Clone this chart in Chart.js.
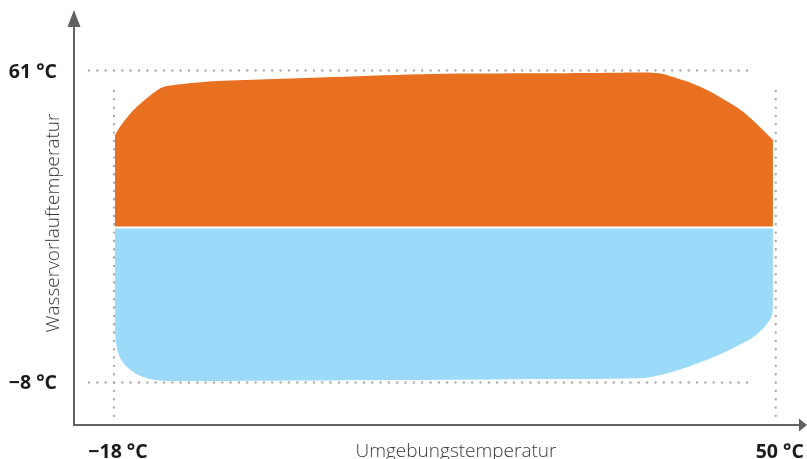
<!DOCTYPE html>
<html>
<head>
<meta charset="utf-8">
<script src="https://cdn.jsdelivr.net/npm/chart.js@4/dist/chart.umd.min.js"></script>
<style>
  html, body { margin: 0; padding: 0; background: #ffffff; }
  #wrap { width: 807px; height: 459px; }
</style>
</head>
<body>
<div id="wrap"><canvas id="c" width="807" height="459"></canvas></div>
<script>
// ---- Data ----
// Upper limit (orange area): ambient temperature (°C) vs max. water flow temperature (°C)
const ambientTop = [-17.9, -17.59, -17.18, -16.66, -16.05, -15.33, -14.61, -13.89, -13.07, -12.04, -10.91, -9.16, -7.42,
                    4.5, 14.78, 25.06, 31.94, 37.39, 38.42, 39.45, 41.19, 42.94, 44.59, 46.33, 47.56, 48.69, 49.71];
const flowMax    = [46.7, 47.81, 49.14, 50.58, 52.13, 53.57, 54.9, 56.12, 57.23, 57.71, 58.0, 58.38, 58.67,
                    59.55, 60.22, 60.37, 60.44, 60.51, 60.22, 59.55, 58.33, 56.67, 54.68, 52.35, 50.13, 47.81, 45.59];
// Lower limit (blue area): ambient temperature (°C) vs min. water flow temperature (°C)
const ambientBottom = [-17.9, -17.85, -17.74, -17.59, -17.18, -16.66, -15.94, -15.02, -13.89, -12.55, 11.39, 23.72,
                       36.05, 37.9, 39.86, 41.5, 43.25, 44.99, 46.64, 47.77, 48.69, 49.21, 49.62, 49.71];
const flowMin       = [3.48, 1.71, -0.07, -1.62, -3.39, -4.72, -5.94, -6.94, -7.56, -7.82, -7.6, -7.42,
                       -7.22, -6.6, -5.5, -4.28, -2.84, -1.17, 0.6, 2.04, 3.81, 5.14, 6.8, 9.02];
// Boundary between the two areas (°C water flow temperature)
const splitTemp = 26.2;
const splitRange = [-17.9, 49.71];
// Tick values and labels
const xTicks = [-18, 50];
const xTickLabels = ['\u221218 \u00b0C', '50 \u00b0C'];
const yTicks = [61, -8];
const yTickLabels = ['61 \u00b0C', '\u22128 \u00b0C'];
const xTitle = 'Umgebungstemperatur';
const yTitle = 'Wasservorlauftemperatur';

const ORANGE = '#E97021';
const BLUE = '#9BDAF8';
const AXIS = '#616161';
const DOT = '#ababab';

const toPoints = (xs, ys) => xs.map((x, i) => ({ x: x, y: ys[i] }));

const decor = {
  id: 'decor',
  beforeDatasetsDraw(chart) {
    const ctx = chart.ctx;
    const xs = chart.scales.x, ys = chart.scales.y;
    ctx.save();
    ctx.strokeStyle = DOT;
    ctx.lineWidth = 2.4;
    ctx.lineCap = 'round';
    ctx.setLineDash([0.01, 8.32]);
    const xL = xs.getPixelForValue(xTicks[0]);
    const xR = xs.getPixelForValue(xTicks[1]);
    const yT = ys.getPixelForValue(yTicks[0]);
    const yB = ys.getPixelForValue(yTicks[1]);
    yTicks.forEach(v => {
      const y = Math.round(ys.getPixelForValue(v)) + 0.5;
      ctx.beginPath();
      ctx.moveTo(xL - 25, y);
      ctx.lineTo(xR - 26, y);
      ctx.stroke();
    });
    xTicks.forEach(v => {
      const x = xs.getPixelForValue(v);
      ctx.beginPath();
      ctx.moveTo(x, yT + 20.5);
      ctx.lineTo(x, yB + 35);
      ctx.stroke();
    });
    ctx.restore();
  },
  afterDraw(chart) {
    const ctx = chart.ctx;
    const a = chart.chartArea;
    const xs = chart.scales.x, ys = chart.scales.y;
    ctx.save();
    ctx.strokeStyle = AXIS;
    ctx.fillStyle = AXIS;
    ctx.lineWidth = 2;
    ctx.beginPath();
    ctx.moveTo(a.left, a.bottom + 1);
    ctx.lineTo(a.left, a.top + 14);
    ctx.moveTo(a.left - 1, a.bottom);
    ctx.lineTo(a.right - 6, a.bottom);
    ctx.stroke();
    ctx.beginPath();
    ctx.moveTo(a.left, a.top);
    ctx.lineTo(a.left - 6.5, a.top + 17);
    ctx.lineTo(a.left + 6.5, a.top + 17);
    ctx.closePath();
    ctx.fill();
    ctx.beginPath();
    ctx.moveTo(a.right + 1, a.bottom);
    ctx.lineTo(a.right - 7, a.bottom - 6.5);
    ctx.lineTo(a.right - 7, a.bottom + 6.5);
    ctx.closePath();
    ctx.fill();

    ctx.fillStyle = '#1a1a1a';
    ctx.font = 'bold 19.5px "Open Sans", "DejaVu Sans", sans-serif';
    ctx.textBaseline = 'alphabetic';
    ctx.textAlign = 'right';
    yTicks.forEach((v, i) => {
      ctx.fillText(yTickLabels[i], a.left - 17, ys.getPixelForValue(v) + 7.3);
    });
    ctx.textAlign = 'center';
    xTicks.forEach((v, i) => {
      ctx.fillText(xTickLabels[i], xs.getPixelForValue(v) + 4, a.bottom + 33);
    });

    ctx.fillStyle = '#3a3a3a';
    ctx.font = '300 19px "Open Sans", "DejaVu Sans", sans-serif';
    ctx.textAlign = 'center';
    ctx.fillText(xTitle, 456, a.bottom + 32);
    ctx.save();
    ctx.translate(59, 223);
    ctx.rotate(-Math.PI / 2);
    ctx.fillText(yTitle, 0, 0);
    ctx.restore();
    ctx.restore();
  }
};

new Chart(document.getElementById('c'), {
  type: 'line',
  data: {
    datasets: [
      {
        label: 'Trennlinie',
        data: toPoints(splitRange, [splitTemp, splitTemp]),
        borderColor: '#ffffff',
        borderWidth: 2.2,
        pointRadius: 0,
        fill: false
      },
      {
        label: 'Heizen',
        data: toPoints(ambientTop, flowMax),
        borderColor: 'rgba(0,0,0,0)',
        borderWidth: 1,
        backgroundColor: ORANGE,
        pointRadius: 0,
        tension: 0.3,
        fill: { value: splitTemp }
      },
      {
        label: 'Kühlen',
        data: toPoints(ambientBottom, flowMin),
        borderColor: 'rgba(0,0,0,0)',
        borderWidth: 1,
        backgroundColor: BLUE,
        pointRadius: 0,
        tension: 0.3,
        fill: { value: splitTemp }
      }
    ]
  },
  options: {
    responsive: false,
    animation: false,
    devicePixelRatio: 1,
    layout: { padding: { left: 74, right: 1, top: 10, bottom: 34 } },
    plugins: {
      legend: { display: false },
      tooltip: { enabled: false },
      title: { display: false }
    },
    scales: {
      x: { type: 'linear', min: -22.11, max: 53.11, display: false },
      y: { type: 'linear', min: -17.57, max: 74.4, display: false }
    }
  },
  plugins: [decor]
});
</script>
</body>
</html>
